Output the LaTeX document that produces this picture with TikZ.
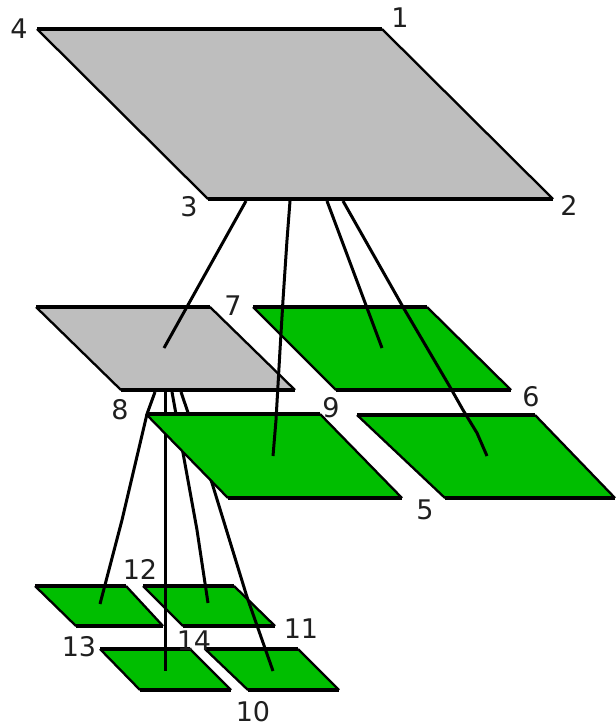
\documentclass[tikz,border=0pt]{standalone}
\usepackage{fontspec}
\setmainfont{DejaVu Sans}
\tikzset{
  x=1pt,y=-1pt,
  wire/.style={draw=black,line width=3pt,line join=round},
  lab/.style={inner sep=0pt,font=\fontsize{27}{27}\selectfont,text=black!88},
  slant/.style={draw=black,line width=2.3pt},
  flat/.style={draw=black,line width=3.2pt}
}
\newcommand{\pane}[7]{%
  \fill[#1] (#2,#3) -- (#4,#3) -- (#5,#6) -- (#7,#6) -- cycle;
  \draw[slant] (#2,#3) -- (#7,#6);
  \draw[slant] (#4,#3) -- (#5,#6);
  \draw[flat] (#2,#3) -- (#4,#3);
  \draw[flat] (#7,#6) -- (#5,#6);
}
\definecolor{panegray}{RGB}{190,190,190}
\definecolor{panegreen}{RGB}{0,190,0}
\begin{document}
\begin{tikzpicture}
\useasboundingbox (0,0) rectangle (615,727);
\fill[white] (0,0) rectangle (615,727);
% upper panes
\pane{panegray}{37}{29}{382}{553}{199}{208}
\pane{panegray}{36}{307}{210}{295}{390}{121}
\pane{panegreen}{253}{307}{427}{511}{390}{336}
% bottom panes
\pane{panegreen}{35}{586}{126}{163}{626}{76}
\pane{panegreen}{143}{586}{234}{275}{626}{183}
\pane{panegreen}{100}{649}{190}{231}{690}{140}
\pane{panegreen}{205}{649}{298}{339}{690}{248}
% named connector ends
\coordinate (g1) at (155,392);
\coordinate (g2) at (165,392);
\coordinate (g3) at (172,392);
\coordinate (g4) at (181,392);
\coordinate (a) at (100,604);
\coordinate (b) at (165,671);
\coordinate (c) at (208,603);
\coordinate (d) at (273,671);
\coordinate (t1) at (246,201);
\coordinate (t2) at (290,201);
\coordinate (t3) at (327,201);
\coordinate (t4) at (343,201);
\coordinate (m1) at (164,348);
\coordinate (m2) at (273,456);
\coordinate (m3) at (382,348);
\coordinate (m4) at (487,456);
% lower connectors
\draw[wire] (g1) -- (147,414) -- (122,520) -- (a);
\draw[wire] (g2) -- (b);
\draw[wire] (g3) -- (183,453) -- (197,530) -- (c);
\draw[wire] (g4) -- (212,483) -- (247,597) -- (d);
% middle panes
\pane{panegreen}{146}{414}{320}{402}{498}{228}
\pane{panegreen}{357}{415}{535}{615}{498}{445}
% upper connectors
\draw[wire] (t1) -- (m1);
\draw[wire] (t2) -- (287,240) -- (283,300) -- (280,350) -- (276,420) -- (m2);
\draw[wire] (t3) -- (m3);
\draw[wire] (t4) -- (403,307) -- (450,387) -- (463,410) -- (477,433) -- (m4);
% labels
\node[lab] (n1) at (400,18) {1};
\node[lab] (n2) at (569,205) {2};
\node[lab] (n3) at (189,207) {3};
\node[lab] (n4) at (19,29) {4};
\node[lab] (n5) at (425,510) {5};
\node[lab] (n6) at (531,397) {6};
\node[lab] (n7) at (233,306) {7};
\node[lab] (n8) at (120,410) {8};
\node[lab] (n9) at (331,408) {9};
\node[lab] (n10) at (253,712) {10};
\node[lab] (n11) at (301,629) {11};
\node[lab] (n12) at (140,569) {12};
\node[lab] (n13) at (79,647) {13};
\node[lab] (n14) at (194,641) {14};
\end{tikzpicture}
\end{document}
